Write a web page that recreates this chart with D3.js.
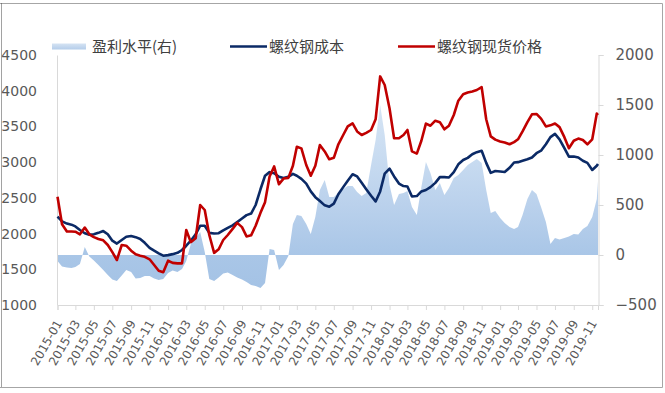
<!DOCTYPE html>
<html><head><meta charset="utf-8">
<script src="https://cdn.jsdelivr.net/npm/d3@7"></script>
<style>body{margin:0;background:#fff;}svg{display:block;}</style>
</head><body>
<svg id="c" width="665" height="393"></svg>
<script>
const dates = [
"2015-01-01","2015-01-16","2015-02-01","2015-02-16","2015-03-01","2015-03-16","2015-04-01","2015-04-16","2015-05-01","2015-05-16",
"2015-06-01","2015-06-16","2015-07-01","2015-07-16","2015-08-01","2015-08-16","2015-09-01","2015-09-16","2015-10-01","2015-10-16",
"2015-11-01","2015-11-16","2015-12-01","2015-12-16","2016-01-01","2016-01-16","2016-02-01","2016-02-16","2016-03-01","2016-03-16",
"2016-04-01","2016-04-16","2016-05-01","2016-05-16","2016-06-01","2016-06-16","2016-07-01","2016-07-16","2016-08-01","2016-08-16",
"2016-09-01","2016-09-16","2016-10-01","2016-10-16","2016-11-01","2016-11-16","2016-12-01","2016-12-16","2017-01-01","2017-01-16",
"2017-02-01","2017-02-16","2017-03-01","2017-03-16","2017-04-01","2017-04-16","2017-05-01","2017-05-16","2017-06-01","2017-06-16",
"2017-07-01","2017-07-16","2017-08-01","2017-08-16","2017-09-01","2017-09-16","2017-10-01","2017-10-16","2017-11-01","2017-11-16",
"2017-12-01","2017-12-16","2018-01-01","2018-01-16","2018-02-01","2018-02-16","2018-03-01","2018-03-16","2018-04-01","2018-04-16",
"2018-05-01","2018-05-16","2018-06-01","2018-06-16","2018-07-01","2018-07-16","2018-08-01","2018-08-16","2018-09-01","2018-09-16",
"2018-10-01","2018-10-16","2018-11-01","2018-11-16","2018-12-01","2018-12-16","2019-01-01","2019-01-16","2019-02-01","2019-02-16",
"2019-03-01","2019-03-16","2019-04-01","2019-04-16","2019-05-01","2019-05-16","2019-06-01","2019-06-16","2019-07-01","2019-07-16",
"2019-08-01","2019-08-16","2019-09-01","2019-09-16","2019-10-01","2019-10-16","2019-11-01","2019-11-16","2019-11-20"];

// 螺纹钢现货价格 (left axis)
const price = [
2516,2130,2030,2030,2026,1990,2085,1990,1950,1925,
1905,1840,1740,1630,1840,1830,1760,1710,1690,1675,
1640,1560,1480,1460,1620,1590,1583,1583,2050,1880,
1935,2400,2330,1980,1730,1780,1910,1980,2065,2150,
2090,1960,1975,2110,2290,2440,2800,2940,2690,2770,
2780,2950,3215,3193,2960,2810,2950,3240,3150,3040,
3060,3250,3380,3500,3543,3430,3380,3410,3450,3600,
4200,4080,3750,3335,3335,3380,3450,3150,3120,3300,
3540,3510,3580,3560,3460,3510,3660,3860,3950,3975,
3990,4010,4050,3600,3360,3315,3290,3275,3250,3280,
3320,3430,3560,3670,3675,3610,3500,3515,3540,3490,
3350,3195,3300,3330,3310,3250,3320,3680,3660];

// 螺纹钢成本 (left axis)
const cost = [
2236,2170,2140,2125,2100,2050,2005,1985,1990,2010,
2035,1990,1900,1860,1910,1955,1965,1950,1925,1870,
1800,1760,1723,1690,1698,1712,1730,1770,1830,1900,
1990,2110,2110,2010,2000,2005,2045,2080,2115,2160,
2210,2258,2280,2400,2620,2810,2860,2845,2795,2778,
2795,2835,2810,2765,2700,2590,2510,2455,2395,2376,
2420,2550,2650,2740,2830,2800,2710,2620,2530,2450,
2590,2840,2910,2800,2700,2665,2660,2520,2525,2590,
2610,2650,2710,2790,2790,2785,2860,2970,3030,3060,
3110,3140,3160,2990,2850,2875,2868,2862,2920,2995,
3000,3020,3040,3065,3125,3160,3250,3350,3395,3320,
3195,3077,3080,3065,3020,2990,2890,2950,2975];

// 盈利水平 (right axis)
const profit = [
-60,-115,-125,-130,-120,-90,80,-15,-55,-100,
-150,-200,-245,-260,-205,-150,-170,-235,-230,-210,
-210,-235,-250,-240,-180,-155,-170,-140,-60,110,
170,230,30,-240,-260,-225,-185,-175,-200,-225,
-245,-270,-300,-310,-330,-280,60,50,-150,-100,
-10,310,400,390,310,210,380,650,750,580,
580,620,660,690,690,630,590,620,900,1150,
1500,1200,700,500,610,620,640,480,400,680,
930,820,650,720,600,670,770,800,850,900,
930,960,920,650,420,440,370,320,280,260,
280,400,560,650,610,480,330,110,170,155,
170,185,210,205,260,290,380,560,740];

const leftTicks = [1000,1500,2000,2500,3000,3500,4000,4500];
const rightTicks = [-500,0,500,1000,1500,2000];
const xTickLabels = ["2015-01","2015-03","2015-05","2015-07","2015-09","2015-11",
"2016-01","2016-03","2016-05","2016-07","2016-09","2016-11",
"2017-01","2017-03","2017-05","2017-07","2017-09","2017-11",
"2018-01","2018-03","2018-05","2018-07","2018-09","2018-11",
"2019-01","2019-03","2019-05","2019-07","2019-09","2019-11"];
const legendLabels = ["盈利水平(右)","螺纹钢成本","螺纹钢现货价格"];
const colors = {cost:"#0b2a66", price:"#c00000"};

const parse = d3.utcParse("%Y-%m-%d");
const parseM = d3.utcParse("%Y-%m");
const D = dates.map(parse);
const svg = d3.select("#c");
const cjk = "'Noto Sans CJK SC',sans-serif";
const num = "'DejaVu Sans',sans-serif";

const x = d3.scaleUtc().domain([parse("2015-01-01"), parse("2019-11-20")]).range([57.5, 598]);
const yL = d3.scaleLinear().domain([1000,4500]).range([305,55]);
const yR = d3.scaleLinear().domain([-500,2000]).range([305,55]);

// frame
svg.append("rect").attr("x",0).attr("y",0).attr("width",665).attr("height",393).attr("fill","#fff");
svg.append("line").attr("x1",0).attr("x2",662.5).attr("y1",3.5).attr("y2",3.5).attr("stroke","#a6a6a6");
svg.append("line").attr("x1",662.5).attr("x2",662.5).attr("y1",3.5).attr("y2",387.5).attr("stroke","#a6a6a6");
svg.append("line").attr("x1",0).attr("x2",662.5).attr("y1",387.5).attr("y2",387.5).attr("stroke","#a6a6a6");
svg.append("line").attr("x1",1.5).attr("x2",1.5).attr("y1",3.5).attr("y2",387.5).attr("stroke","#444").attr("stroke-dasharray","1,1");

// gradient
const defs = svg.append("defs");
const g = defs.append("linearGradient").attr("id","pg").attr("gradientUnits","userSpaceOnUse")
  .attr("x1",0).attr("x2",0).attr("y1",55).attr("y2",305);
[[0,"#e2ecf7"],[0.4,"#c9dcf1"],[0.6,"#bad1ec"],[0.8,"#a9c6e7"],[1,"#a2c1e4"]].forEach(s=>
  g.append("stop").attr("offset",s[0]).attr("stop-color",s[1]));
const g2 = defs.append("linearGradient").attr("id","lg").attr("x1",0).attr("x2",0).attr("y1",0).attr("y2",1);
g2.append("stop").attr("offset",0).attr("stop-color","#d5e3f3");
g2.append("stop").attr("offset",1).attr("stop-color","#b4cdea");

// area
const area = d3.area().x((d,i)=>x(D[i])).y0(yR(0)).y1(d=>yR(d));
svg.append("path").datum(profit).attr("d",area).attr("fill","url(#pg)");

// axes
const axL = svg.append("g").attr("transform","translate(57,0)")
  .call(d3.axisLeft(yL).tickValues(leftTicks).tickSize(0).tickPadding(20).tickFormat(d3.format("d")));
const axR = svg.append("g").attr("transform","translate(598.5,0)")
  .call(d3.axisRight(yR).tickValues(rightTicks).tickSize(5).tickPadding(12).tickFormat(d3.format("d")));
const axX = svg.append("g").attr("transform","translate(0,305)")
  .call(d3.axisBottom(x).tickValues(xTickLabels.map(parseM)).tickSize(5).tickFormat(d3.utcFormat("%Y-%m")));
[axL,axR,axX].forEach(a=>{
  a.select(".domain").attr("stroke","#d9d9d9");
  a.selectAll(".tick line").attr("stroke","#d9d9d9");
  a.selectAll("text").attr("fill","#595959").style("font-family",num);
});
axL.selectAll("text").style("font-size","14px");
axR.selectAll("text").style("font-size","15px");
axX.selectAll("text").style("font-size","12px")
  .attr("text-anchor","end").attr("dy","0.35em")
  .attr("transform","translate(1,16) rotate(-60)")
  .attr("y",0).attr("x",0);

// lines
const line = d3.line().x((d,i)=>x(D[i])).y(d=>yL(d));
svg.append("path").datum(cost).attr("d",line).attr("fill","none").attr("stroke",colors.cost).attr("stroke-width",2.6).attr("stroke-linejoin","round");
svg.append("path").datum(price).attr("d",line).attr("fill","none").attr("stroke",colors.price).attr("stroke-width",2.6).attr("stroke-linejoin","round");

// legend
const lg = svg.append("g").style("font-family",cjk).style("font-size","15px").attr("fill","#404040");
lg.append("rect").attr("x",52).attr("y",43.5).attr("width",34).attr("height",6).attr("fill","url(#lg)");
lg.append("text").attr("x",92).attr("y",46.5).attr("dy","0.35em").text(legendLabels[0]);
lg.append("line").attr("x1",230).attr("x2",267).attr("y1",46.5).attr("y2",46.5).attr("stroke",colors.cost).attr("stroke-width",2.5);
lg.append("text").attr("x",269).attr("y",46.5).attr("dy","0.35em").text(legendLabels[1]);
lg.append("line").attr("x1",398).attr("x2",435).attr("y1",46.5).attr("y2",46.5).attr("stroke",colors.price).attr("stroke-width",2.5);
lg.append("text").attr("x",437).attr("y",46.5).attr("dy","0.35em").text(legendLabels[2]);
</script>
</body></html>
